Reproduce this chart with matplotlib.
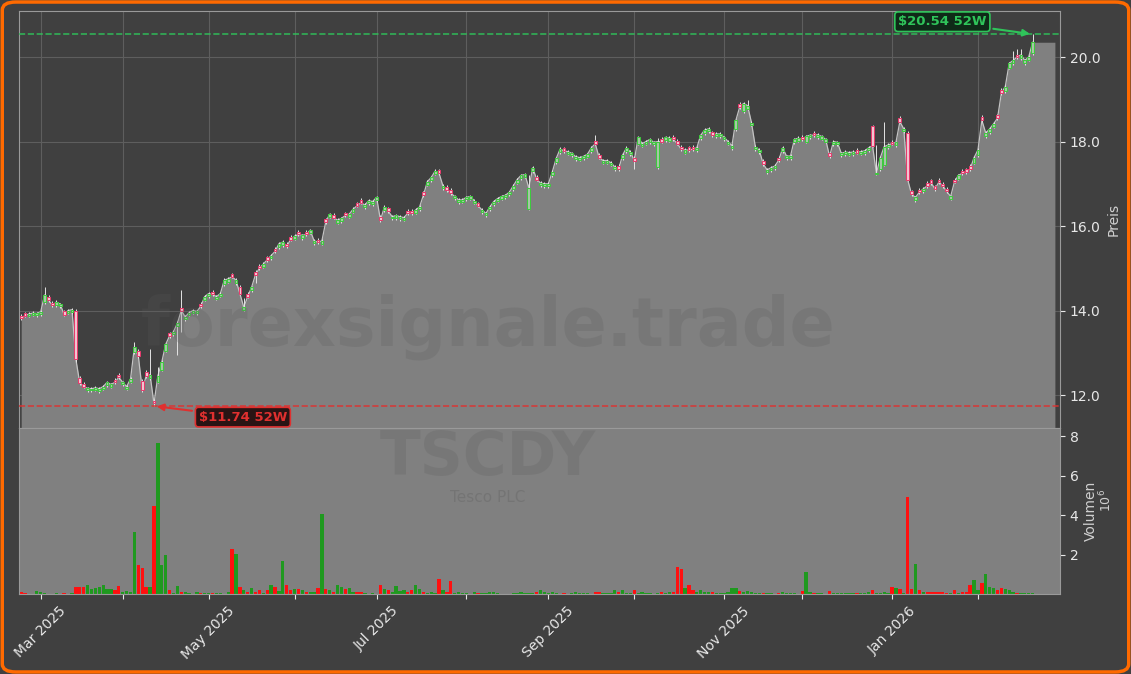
import matplotlib
matplotlib.use("Agg")
import matplotlib.pyplot as plt
import numpy as np
import pandas as pd
from matplotlib.patches import FancyBboxPatch, Rectangle

TICKER = "TSCDY"
COMPANY = "Tesco PLC"
WATERMARK = "forexsignale.trade"
START = "2025-02-24"

# daily OHLC (USD), one row of ten per line
opens = [
    13.88, 13.93, 13.88, 13.90, 13.89, 13.92, 14.20, 14.32, 14.18, 14.12,
    14.10, 13.98, 13.95, 13.96, 14.00, 12.40, 12.26, 12.12, 12.11, 12.13,
    12.10, 12.15, 12.24, 12.20, 12.36, 12.48, 12.26, 12.15, 12.32, 13.02,
    13.05, 12.33, 12.55, 12.40, 11.86, 12.32, 12.60, 13.05, 13.46, 13.44,
    13.64, 14.06, 13.80, 13.90, 13.95, 13.93, 14.16, 14.26, 14.34, 14.45,
    14.28, 14.35, 14.62, 14.68, 14.86, 14.65, 14.56, 14.02, 14.40, 14.48,
    14.92, 15.06, 15.04, 15.26, 15.24, 15.46, 15.50, 15.55, 15.58, 15.74,
    15.70, 15.86, 15.72, 15.86, 15.84, 15.60, 15.68, 15.58, 16.16, 16.22,
    16.26, 16.08, 16.12, 16.30, 16.22, 16.34, 16.54, 16.62, 16.44, 16.54,
    16.52, 16.62, 16.22, 16.38, 16.42, 16.18, 16.19, 16.17, 16.15, 16.36,
    16.36, 16.32, 16.40, 16.80, 16.98, 17.08, 17.24, 17.32, 16.90, 16.92,
    16.85, 16.66, 16.57, 16.58, 16.63, 16.65, 16.55, 16.54, 16.33, 16.25,
    16.40, 16.52, 16.60, 16.65, 16.68, 16.75, 16.88, 17.03, 17.14, 17.17,
    16.40, 17.30, 17.16, 16.96, 16.95, 16.95, 17.20, 17.52, 17.75, 17.84,
    17.71, 17.67, 17.58, 17.57, 17.60, 17.64, 17.78, 18.02, 17.68, 17.50,
    17.50, 17.45, 17.34, 17.42, 17.60, 17.78, 17.70, 17.62, 17.95, 17.90,
    17.95, 17.99, 17.93, 17.40, 18.06, 18.04, 18.02, 18.11, 18.02, 17.88,
    17.74, 17.86, 17.88, 17.80, 18.08, 18.20, 18.24, 18.22, 18.13, 18.13,
    18.05, 17.95, 17.85, 18.30, 18.90, 18.72, 18.78, 18.40, 17.82, 17.75,
    17.55, 17.28, 17.33, 17.37, 17.62, 17.78, 17.60, 17.61, 17.98, 18.02,
    18.11, 18.00, 18.10, 18.21, 18.11, 18.07, 18.00, 17.72, 17.94, 17.93,
    17.67, 17.70, 17.69, 17.70, 17.80, 17.71, 17.73, 17.80, 18.37, 17.22,
    17.35, 17.45, 17.86, 18.00, 17.92, 18.55, 18.25, 18.20, 16.82, 16.62,
    16.86, 16.82, 17.02, 17.08, 16.94, 17.10, 17.00, 16.88, 16.65, 17.10,
    17.12, 17.30, 17.34, 17.42, 17.50, 17.68, 18.58, 18.12, 18.22, 18.35,
    18.62, 19.22, 19.20, 19.75, 19.86, 20.06, 19.98, 19.86, 19.94, 20.10,
]
highs = [
    13.92, 13.97, 13.96, 13.98, 13.97, 14.01, 14.55, 14.36, 14.22, 14.24,
    14.19, 14.02, 14.04, 14.06, 14.04, 12.44, 12.30, 12.20, 12.19, 12.21,
    12.19, 12.24, 12.34, 12.29, 12.40, 12.52, 12.34, 12.24, 12.42, 13.25,
    13.09, 12.37, 12.59, 13.10, 11.90, 12.67, 12.82, 13.24, 13.50, 13.54,
    13.75, 14.48, 13.89, 13.99, 14.04, 14.02, 14.20, 14.37, 14.44, 14.49,
    14.37, 14.44, 14.76, 14.79, 14.90, 14.76, 14.60, 14.30, 14.44, 14.59,
    14.96, 15.10, 15.14, 15.30, 15.34, 15.50, 15.62, 15.66, 15.62, 15.78,
    15.80, 15.90, 15.82, 15.90, 15.94, 15.69, 15.72, 15.69, 16.20, 16.32,
    16.30, 16.18, 16.22, 16.34, 16.32, 16.44, 16.58, 16.66, 16.54, 16.64,
    16.62, 16.72, 16.26, 16.49, 16.46, 16.26, 16.29, 16.26, 16.24, 16.40,
    16.40, 16.42, 16.49, 16.84, 17.09, 17.19, 17.34, 17.36, 16.99, 16.96,
    16.89, 16.74, 16.66, 16.66, 16.72, 16.74, 16.64, 16.58, 16.42, 16.34,
    16.49, 16.62, 16.69, 16.74, 16.77, 16.84, 16.99, 17.14, 17.24, 17.26,
    17.20, 17.42, 17.20, 17.06, 17.04, 17.04, 17.32, 17.64, 17.86, 17.88,
    17.80, 17.76, 17.68, 17.66, 17.69, 17.74, 17.89, 18.15, 17.72, 17.59,
    17.59, 17.54, 17.44, 17.46, 17.72, 17.89, 17.79, 17.66, 18.14, 17.99,
    18.04, 18.09, 18.02, 18.08, 18.10, 18.14, 18.12, 18.15, 18.06, 17.92,
    17.84, 17.90, 17.92, 17.89, 18.19, 18.31, 18.34, 18.26, 18.22, 18.22,
    18.14, 18.04, 17.94, 18.54, 18.94, 18.94, 18.98, 18.49, 17.91, 17.84,
    17.59, 17.37, 17.42, 17.46, 17.66, 17.89, 17.69, 17.70, 18.09, 18.12,
    18.15, 18.16, 18.19, 18.25, 18.20, 18.16, 18.09, 17.76, 18.04, 18.02,
    17.76, 17.79, 17.78, 17.79, 17.84, 17.80, 17.82, 17.89, 18.40, 17.92,
    17.66, 18.47, 17.96, 18.04, 18.02, 18.60, 18.34, 18.24, 16.86, 16.72,
    16.90, 16.92, 17.06, 17.12, 16.98, 17.14, 17.04, 16.92, 16.74, 17.14,
    17.24, 17.34, 17.38, 17.46, 17.66, 17.84, 18.62, 18.24, 18.34, 18.46,
    18.66, 19.26, 19.34, 19.89, 20.15, 20.20, 20.20, 19.96, 20.04, 20.54,
]
lows = [
    13.78, 13.84, 13.84, 13.86, 13.85, 13.88, 14.16, 14.21, 14.08, 14.08,
    14.06, 13.86, 13.91, 13.92, 12.78, 12.24, 12.16, 12.08, 12.07, 12.09,
    12.06, 12.11, 12.20, 12.16, 12.26, 12.38, 12.22, 12.11, 12.28, 12.98,
    12.88, 12.08, 12.41, 12.36, 11.74, 12.28, 12.56, 13.01, 13.36, 13.40,
    12.95, 13.50, 13.76, 13.86, 13.91, 13.89, 14.06, 14.22, 14.30, 14.34,
    14.24, 14.31, 14.58, 14.64, 14.76, 14.61, 14.36, 13.98, 14.29, 14.44,
    14.65, 14.96, 15.00, 15.16, 15.20, 15.36, 15.46, 15.51, 15.48, 15.64,
    15.66, 15.76, 15.68, 15.76, 15.80, 15.56, 15.58, 15.54, 16.06, 16.18,
    16.16, 16.04, 16.08, 16.21, 16.18, 16.30, 16.44, 16.51, 16.40, 16.50,
    16.48, 16.58, 16.10, 16.34, 16.31, 16.14, 16.15, 16.13, 16.11, 16.26,
    16.26, 16.28, 16.36, 16.69, 16.94, 17.04, 17.20, 17.21, 16.86, 16.81,
    16.74, 16.62, 16.53, 16.54, 16.59, 16.61, 16.51, 16.44, 16.29, 16.21,
    16.36, 16.48, 16.56, 16.61, 16.64, 16.71, 16.84, 16.99, 17.10, 17.13,
    16.38, 17.26, 17.06, 16.92, 16.91, 16.91, 17.16, 17.48, 17.71, 17.74,
    17.67, 17.63, 17.54, 17.53, 17.56, 17.60, 17.74, 17.91, 17.58, 17.46,
    17.46, 17.41, 17.30, 17.31, 17.56, 17.74, 17.66, 17.35, 17.91, 17.86,
    17.91, 17.95, 17.89, 17.36, 17.96, 18.00, 17.98, 18.01, 17.91, 17.78,
    17.70, 17.76, 17.78, 17.76, 18.04, 18.16, 18.20, 18.11, 18.09, 18.09,
    18.01, 17.91, 17.81, 18.26, 18.78, 18.68, 18.74, 18.36, 17.78, 17.71,
    17.43, 17.24, 17.29, 17.33, 17.52, 17.74, 17.56, 17.57, 17.94, 17.98,
    18.01, 17.96, 18.06, 18.11, 18.07, 18.03, 17.96, 17.61, 17.90, 17.89,
    17.63, 17.66, 17.65, 17.66, 17.70, 17.67, 17.69, 17.76, 17.86, 17.20,
    17.31, 17.41, 17.82, 17.91, 17.88, 18.43, 18.21, 17.06, 16.71, 16.58,
    16.76, 16.78, 16.91, 16.98, 16.84, 17.00, 16.91, 16.78, 16.61, 17.01,
    17.08, 17.21, 17.24, 17.31, 17.46, 17.64, 18.46, 18.08, 18.18, 18.31,
    18.51, 19.11, 19.16, 19.71, 19.82, 19.96, 19.94, 19.82, 19.90, 20.06,
]
closes = [
    13.82, 13.88, 13.92, 13.94, 13.93, 13.97, 14.37, 14.25, 14.12, 14.20,
    14.15, 13.90, 14.00, 14.02, 12.85, 12.28, 12.20, 12.16, 12.15, 12.17,
    12.15, 12.20, 12.30, 12.25, 12.30, 12.42, 12.30, 12.20, 12.38, 13.14,
    12.92, 12.12, 12.45, 12.48, 11.80, 12.45, 12.78, 13.20, 13.40, 13.50,
    13.70, 14.00, 13.85, 13.95, 14.00, 13.98, 14.10, 14.33, 14.40, 14.38,
    14.33, 14.40, 14.72, 14.75, 14.80, 14.72, 14.40, 14.08, 14.33, 14.55,
    14.85, 15.00, 15.10, 15.20, 15.30, 15.40, 15.58, 15.62, 15.52, 15.68,
    15.76, 15.80, 15.78, 15.80, 15.90, 15.65, 15.62, 15.65, 16.10, 16.28,
    16.20, 16.14, 16.18, 16.25, 16.28, 16.40, 16.48, 16.55, 16.50, 16.60,
    16.58, 16.68, 16.14, 16.45, 16.35, 16.22, 16.25, 16.22, 16.20, 16.30,
    16.30, 16.38, 16.45, 16.73, 17.05, 17.15, 17.30, 17.25, 16.95, 16.85,
    16.78, 16.70, 16.62, 16.62, 16.68, 16.70, 16.60, 16.48, 16.38, 16.30,
    16.45, 16.58, 16.65, 16.70, 16.73, 16.80, 16.95, 17.10, 17.20, 17.22,
    16.90, 17.38, 17.10, 17.02, 17.00, 17.00, 17.28, 17.60, 17.82, 17.78,
    17.76, 17.72, 17.64, 17.62, 17.65, 17.70, 17.85, 17.95, 17.62, 17.55,
    17.55, 17.50, 17.40, 17.35, 17.68, 17.85, 17.75, 17.55, 18.10, 17.95,
    18.00, 18.05, 17.98, 18.00, 18.00, 18.10, 18.08, 18.05, 17.95, 17.82,
    17.80, 17.80, 17.82, 17.85, 18.15, 18.27, 18.30, 18.15, 18.18, 18.18,
    18.10, 18.00, 17.90, 18.50, 18.82, 18.90, 18.85, 18.45, 17.87, 17.80,
    17.47, 17.33, 17.38, 17.42, 17.56, 17.85, 17.65, 17.66, 18.05, 18.08,
    18.05, 18.12, 18.15, 18.15, 18.16, 18.12, 18.05, 17.65, 18.00, 17.98,
    17.72, 17.75, 17.74, 17.75, 17.74, 17.76, 17.78, 17.85, 17.90, 17.25,
    17.62, 17.88, 17.92, 17.95, 17.98, 18.47, 18.30, 17.10, 16.75, 16.68,
    16.80, 16.88, 16.95, 17.02, 16.88, 17.04, 16.95, 16.82, 16.70, 17.05,
    17.20, 17.25, 17.28, 17.35, 17.62, 17.80, 18.50, 18.20, 18.30, 18.42,
    18.55, 19.15, 19.30, 19.85, 19.92, 20.00, 20.05, 19.92, 20.00, 20.35,
]
# volume in millions of shares
volumes = [
    0.10, 0.08, 0.03, 0.04, 0.15, 0.10, 0.05, 0.03, 0.04, 0.08,
    0.03, 0.07, 0.04, 0.05, 0.37, 0.38, 0.36, 0.50, 0.26, 0.30,
    0.37, 0.50, 0.27, 0.27, 0.20, 0.40, 0.10, 0.15, 0.12, 3.15,
    1.50, 1.34, 0.37, 0.37, 4.47, 7.66, 1.50, 1.98, 0.20, 0.08,
    0.45, 0.10, 0.10, 0.05, 0.04, 0.12, 0.08, 0.05, 0.06, 0.08,
    0.06, 0.05, 0.04, 0.10, 2.29, 2.03, 0.37, 0.20, 0.14, 0.34,
    0.10, 0.20, 0.06, 0.20, 0.46, 0.37, 0.18, 1.68, 0.46, 0.20,
    0.25, 0.25, 0.20, 0.10, 0.10, 0.14, 0.34, 4.07, 0.27, 0.20,
    0.14, 0.46, 0.37, 0.28, 0.34, 0.12, 0.14, 0.14, 0.06, 0.04,
    0.05, 0.04, 0.46, 0.28, 0.20, 0.12, 0.40, 0.17, 0.20, 0.14,
    0.20, 0.46, 0.25, 0.10, 0.05, 0.10, 0.08, 0.76, 0.20, 0.10,
    0.66, 0.06, 0.14, 0.05, 0.05, 0.04, 0.14, 0.08, 0.06, 0.05,
    0.14, 0.10, 0.06, 0.04, 0.03, 0.04, 0.05, 0.08, 0.10, 0.06,
    0.08, 0.06, 0.10, 0.20, 0.14, 0.08, 0.14, 0.06, 0.04, 0.05,
    0.04, 0.05, 0.14, 0.05, 0.06, 0.05, 0.03, 0.14, 0.12, 0.08,
    0.05, 0.06, 0.22, 0.14, 0.22, 0.05, 0.06, 0.24, 0.08, 0.10,
    0.06, 0.05, 0.04, 0.05, 0.12, 0.08, 0.12, 0.10, 1.40, 1.29,
    0.34, 0.47, 0.22, 0.12, 0.22, 0.14, 0.10, 0.12, 0.08, 0.06,
    0.08, 0.14, 0.34, 0.30, 0.17, 0.10, 0.17, 0.10, 0.06, 0.05,
    0.08, 0.06, 0.05, 0.04, 0.08, 0.10, 0.08, 0.06, 0.05, 0.04,
    0.17, 1.14, 0.10, 0.06, 0.05, 0.06, 0.04, 0.17, 0.08, 0.08,
    0.05, 0.08, 0.06, 0.05, 0.08, 0.06, 0.05, 0.12, 0.22, 0.06,
    0.08, 0.14, 0.06, 0.39, 0.34, 0.27, 0.08, 4.95, 0.25, 1.53,
    0.22, 0.12, 0.12, 0.12, 0.12, 0.12, 0.12, 0.06, 0.08, 0.22,
    0.07, 0.14, 0.12, 0.47, 0.73, 0.22, 0.58, 1.03, 0.39, 0.34,
    0.22, 0.34, 0.27, 0.22, 0.12, 0.08, 0.07, 0.07, 0.07, 0.07,
]

BG = "#404040"
FILL = "#808080"
UP_EDGE, UP_FACE = "#3ccb3c", "#a6c6a6"
DN_EDGE, DN_FACE = "#e8386c", "#f3c4d0"
VOL_UP, VOL_DN = "#1f991f", "#ff1010"
TXT = "#e8e8e8"
HI_COL, LO_COL = "#2fc45a", "#e0302f"

o = np.array(opens)
h = np.array(highs)
l = np.array(lows)
c = np.array(closes)
v = np.array(volumes)
n = len(c)
x = np.arange(n)
dates = pd.bdate_range(START, periods=n)
up = c >= o

fig = plt.figure(figsize=(11.31, 6.74), dpi=100)
fig.patch.set_facecolor(BG)
ax = fig.add_axes([0.0168, 0.365, 0.9204, 0.6187])
axv = fig.add_axes([0.0168, 0.1187, 0.9204, 0.2463], sharex=ax)

# price panel
ax.set_facecolor(BG)
ymin, ymax = 11.22, 21.09
ax.set_ylim(ymin, ymax)
ax.set_xlim(-0.56, 266.0)
fx = np.append(x, n + 4.7)
fy = np.append(c, c[-1])
ax.fill_between(fx, fy, ymin, color=FILL, zorder=1, linewidth=0)
ax.plot(x, c, color="#c4c4c4", lw=0.9, zorder=2)
ax.vlines(x, l, h, color="#e4e4e4", lw=0.7, zorder=3)
for i in range(n):
    lo_b = min(o[i], c[i])
    height = max(abs(c[i] - o[i]), 0.03)
    ax.add_patch(Rectangle((x[i] - 0.35, lo_b), 0.7, height,
                           facecolor=UP_FACE if up[i] else DN_FACE,
                           edgecolor=UP_EDGE if up[i] else DN_EDGE,
                           lw=0.7, zorder=4))

hi_i, lo_i = int(np.argmax(h)), int(np.argmin(l))
hi_v, lo_v = h[hi_i], l[lo_i]
ax.axhline(hi_v, color=HI_COL, ls="--", lw=1.2, alpha=0.85, zorder=5)
ax.axhline(lo_v, color=LO_COL, ls="--", lw=1.2, alpha=0.85, zorder=5)
ax.annotate(f"${hi_v:.2f} 52W", xy=(hi_i, hi_v), xytext=(-65, 9),
            textcoords="offset points", ha="center", va="center",
            color=HI_COL, fontsize=9.5, fontweight="bold", zorder=6,
            bbox=dict(boxstyle="round,pad=0.25", fc="#0f2a18", ec=HI_COL, lw=1.2),
            arrowprops=dict(arrowstyle="-|>", color=HI_COL, lw=1.5, mutation_scale=10))
ax.annotate(f"${lo_v:.2f} 52W", xy=(lo_i, lo_v), xytext=(64, -8),
            textcoords="offset points", ha="center", va="center",
            color=LO_COL, fontsize=9.5, fontweight="bold", zorder=6,
            bbox=dict(boxstyle="round,pad=0.25", fc="#2a1414", ec=LO_COL, lw=1.2),
            arrowprops=dict(arrowstyle="-|>", color=LO_COL, lw=1.5, mutation_scale=10))

# month ticks on first trading day of each month, label every other month
ticks = [i for i in range(1, n) if dates[i].month != dates[i - 1].month]
labels = [dates[i].strftime("%b %Y") if dates[i].month % 2 == 1 else "" for i in ticks]

ax.set_xticks(ticks)
ax.grid(True, color="#5e5e5e", lw=0.8)
ax.set_axisbelow(True)
ax.tick_params(axis="x", bottom=False, labelbottom=False)
ax.yaxis.tick_right()
ax.yaxis.set_label_position("right")
ax.set_yticks([12, 14, 16, 18, 20])
ax.set_yticklabels([f"{t:.1f}" for t in [12, 14, 16, 18, 20]])
ax.tick_params(axis="y", colors=TXT, labelsize=10)
ax.set_ylabel("Preis", color="#d0d0d0", fontsize=10)
for s in ax.spines.values():
    s.set_color("#9a9a9a")

# volume panel
axv.set_facecolor(FILL)
axv.bar(x, v, width=0.85, color=np.where(up, VOL_UP, VOL_DN), linewidth=0)
axv.set_ylim(0.02, v.max() * 1.1)
axv.set_xticks(ticks)
axv.set_xticklabels(labels, rotation=45, ha="center")
axv.tick_params(axis="x", colors=TXT, labelsize=10)
axv.yaxis.tick_right()
axv.yaxis.set_label_position("right")
axv.set_yticks([2, 4, 6, 8])
axv.tick_params(axis="y", colors=TXT, labelsize=10)
axv.set_ylabel("Volumen", color="#d0d0d0", fontsize=10)
for s in axv.spines.values():
    s.set_color("#9a9a9a")
fig.text(1106 / 1131, 1 - 500 / 674, r"$10^{6}$", rotation=90, color="#d0d0d0",
         fontsize=9, ha="center", va="center")

# watermarks
fig.text(0.4315, 0.515, WATERMARK, fontsize=48, fontweight="bold", color="#5a5a5a",
         alpha=0.22, ha="center", va="center", zorder=10)
fig.text(0.4315, 0.319, TICKER, fontsize=43, fontweight="bold", color="#5a5a5a",
         alpha=0.22, ha="center", va="center", zorder=10)
fig.text(0.4315, 0.262, COMPANY, fontsize=11, color="#5a5a5a",
         alpha=0.3, ha="center", va="center", zorder=10)

fig.patches.append(FancyBboxPatch((0.002, 0.003), 0.996, 0.994,
                                  boxstyle="round,pad=0,rounding_size=0.012",
                                  transform=fig.transFigure, fill=False,
                                  ec="#ff6a00", lw=2.5, zorder=20))

fig.savefig("out.png", dpi=100, facecolor=fig.get_facecolor())
